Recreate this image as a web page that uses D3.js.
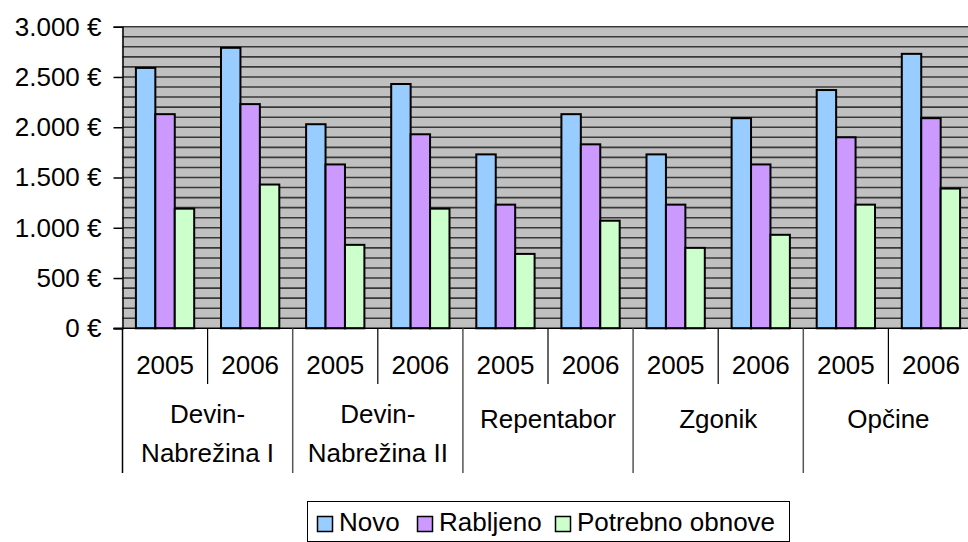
<!DOCTYPE html>
<html>
<head>
<meta charset="utf-8">
<script src="https://cdn.jsdelivr.net/npm/d3@7"></script>
<style>
  body { margin: 0; background: #fff; }
  svg text { font-family: "Liberation Sans", Arial, sans-serif; fill: #000; }
</style>
</head>
<body>
<svg id="chart" width="968" height="542"></svg>
<script>
// Data
var locations = [["Devin-", "Nabrežina I"], ["Devin-", "Nabrežina II"], ["Repentabor"], ["Zgonik"], ["Opčine"]];
var years = ["2005", "2006"];
var seriesNames = ["Novo", "Rabljeno", "Potrebno obnove"];
var novo     = [2590, 2790, 2030, 2430, 1730, 2130, 1730, 2090, 2370, 2730];
var rabljeno = [2130, 2230, 1630, 1930, 1230, 1830, 1230, 1630, 1900, 2090];
var obnove   = [1190, 1430,  830, 1190,  740, 1070,  800,  930, 1230, 1390];
var yTicks = [0, 500, 1000, 1500, 2000, 2500, 3000];

var colors = ["#99ccff", "#cc99ff", "#ccffcc"];

var svg = d3.select("#chart");
var margin = { left: 122.5, top: 26.7, right: 973.5, bottom: 328.3 };

// rows: one per location-year
var rows = [];
locations.forEach(function(loc, i) {
  years.forEach(function(yr, j) {
    var k = i * years.length + j;
    rows.push({ key: k, year: yr, values: [novo[k], rabljeno[k], obnove[k]] });
  });
});

// Scales
var x0 = d3.scaleBand()
           .domain(rows.map(function(d) { return d.key; }))
           .range([margin.left, margin.right]);
var x1 = d3.scaleBand()
           .domain(d3.range(seriesNames.length))
           .range([0, x0.bandwidth()])
           .paddingInner(0)
           .paddingOuter(0.69);
var yScale = d3.scaleLinear()
               .domain([0, 3000])
               .range([margin.bottom, margin.top]);

// Plot background
svg.append("rect")
   .attr("x", margin.left)
   .attr("y", margin.top)
   .attr("width", margin.right - margin.left)
   .attr("height", margin.bottom - margin.top)
   .style("fill", "#c0c0c0")
   .style("stroke", "#d8d8d8")
   .style("stroke-width", 1.5);

// Gridlines every 100
svg.append("g")
   .selectAll("line")
   .data(d3.range(100, 3001, 100))
   .enter()
   .append("line")
   .attr("x1", margin.left)
   .attr("x2", margin.right)
   .attr("y1", function(d) { return yScale(d); })
   .attr("y2", function(d) { return yScale(d); })
   .style("stroke", "#383838")
   .style("stroke-width", 1.6);

// Bars
var groups = svg.append("g")
                .selectAll("g")
                .data(rows)
                .enter()
                .append("g")
                .attr("transform", function(d) { return "translate(" + x0(d.key) + ",0)"; });
groups.selectAll("rect")
      .data(function(d) { return d.values.map(function(v, i) { return { i: i, v: v }; }); })
      .enter()
      .append("rect")
      .attr("x", function(d) { return x1(d.i); })
      .attr("y", function(d) { return yScale(d.v); })
      .attr("width", x1.bandwidth())
      .attr("height", function(d) { return yScale(0) - yScale(d.v); })
      .style("fill", function(d) { return colors[d.i]; })
      .style("stroke", "#000")
      .style("stroke-width", 2);

// Y axis
var yAxis = d3.axisLeft(yScale)
              .tickValues(yTicks)
              .tickSize(9)
              .tickPadding(12)
              .tickFormat(function(d) { return d3.format(",")(d).replace(/,/g, ".") + " €"; });
var yG = svg.append("g")
            .attr("transform", "translate(" + margin.left + ",0)")
            .call(yAxis);
yG.select(".domain").style("stroke", "#000").style("stroke-width", 1.5);
yG.selectAll(".tick line").style("stroke", "#000").style("stroke-width", 1.5);
yG.selectAll(".tick text")
  .style("font-size", "26px")
  .style("font-family", "'Liberation Sans', Arial, sans-serif")
  .style("fill", "#000");

// X axis baseline
svg.append("line")
   .attr("x1", margin.left - 9)
   .attr("x2", margin.right)
   .attr("y1", yScale(0))
   .attr("y2", yScale(0))
   .style("stroke", "#000")
   .style("stroke-width", 1.5);

// Year separators (short)
svg.append("g")
   .selectAll("line")
   .data(rows.filter(function(d, i) { return i % 2 == 1; }))
   .enter()
   .append("line")
   .attr("x1", function(d) { return x0(d.key); })
   .attr("x2", function(d) { return x0(d.key); })
   .attr("y1", yScale(0))
   .attr("y2", 384)
   .style("stroke", "#000")
   .style("stroke-width", 1.2);

// Location separators (long)
svg.append("g")
   .selectAll("line")
   .data(rows.filter(function(d, i) { return i % 2 == 0; }))
   .enter()
   .append("line")
   .attr("x1", function(d) { return x0(d.key); })
   .attr("x2", function(d) { return x0(d.key); })
   .attr("y1", yScale(0))
   .attr("y2", 473)
   .style("stroke", function(d, i) { return i == 0 ? "#000" : "#555"; })
   .style("stroke-width", 1.5);

// Year labels
svg.append("g")
   .selectAll("text")
   .data(rows)
   .enter()
   .append("text")
   .attr("x", function(d) { return x0(d.key) + x0.bandwidth() / 2; })
   .attr("y", 374)
   .attr("text-anchor", "middle")
   .style("font-size", "26px")
   .text(function(d) { return d.year; });

// Location labels
var locText = svg.append("g")
                 .selectAll("text")
                 .data(locations)
                 .enter()
                 .append("text")
                 .attr("text-anchor", "middle")
                 .style("font-size", "26px");
locText.selectAll("tspan")
       .data(function(d, i) { return d.map(function(line, j) { return { line: line, j: j, n: d.length, i: i }; }); })
       .enter()
       .append("tspan")
       .attr("x", function(d) { return x0(d.i * 2) + x0.bandwidth(); })
       .attr("y", function(d) { return d.n == 1 ? 428 : 423 + d.j * 39; })
       .text(function(d) { return d.line; });

// Legend
var legend = svg.append("g");
legend.append("rect")
      .attr("x", 307.5)
      .attr("y", 501.5)
      .attr("width", 482)
      .attr("height", 40)
      .style("fill", "#fff")
      .style("stroke", "#000")
      .style("stroke-width", 1);
var legendX = [317, 417, 555];
var legendItem = legend.selectAll(".legendItem")
                       .data(seriesNames)
                       .enter()
                       .append("g")
                       .attr("class", "legendItem")
                       .attr("transform", function(d, i) { return "translate(" + legendX[i] + ",0)"; });
legendItem.append("rect")
          .attr("x", 0.5)
          .attr("y", 516.5)
          .attr("width", 15)
          .attr("height", 15)
          .style("fill", function(d, i) { return colors[i]; })
          .style("stroke", "#000")
          .style("stroke-width", 1.5);
legendItem.append("text")
          .attr("x", 22)
          .attr("y", 531)
          .style("font-size", "26px")
          .text(function(d) { return d; });
</script>
</body>
</html>
